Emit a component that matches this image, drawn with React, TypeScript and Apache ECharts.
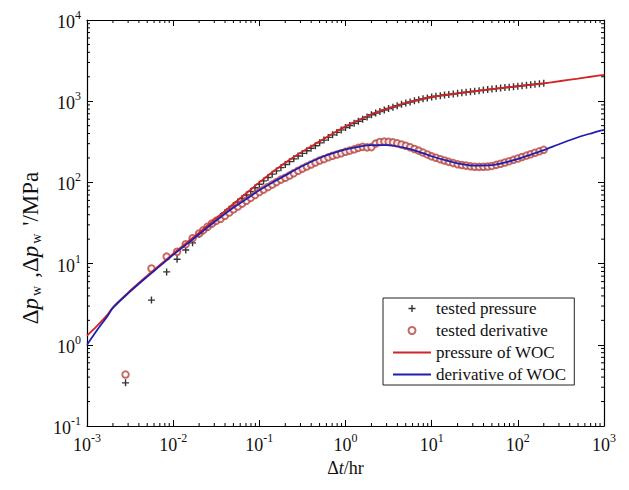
import React, { useEffect, useRef } from 'react';
import * as echarts from 'echarts';

const FONT = "'Liberation Serif', 'Times New Roman', serif";

// Model curves (WOC)
const modelTime = [0.001, 0.0013, 0.0017, 0.002, 0.003, 0.005, 0.007, 0.01, 0.015, 0.02, 0.03, 0.05, 0.07, 0.1, 0.15, 0.2, 0.3, 0.5, 0.7, 1, 1.5, 2, 3, 5, 7, 10, 15, 20, 30, 50, 70, 100, 150, 200, 300, 500, 700, 1000];
const modelPressure = [1.3, 1.7, 2.3, 2.9, 4.4, 7.1, 9.6, 13.2, 18.8, 24, 34.5, 54.5, 73, 100, 140, 175, 232, 320, 395, 490, 600, 690, 800, 950, 1040, 1130, 1200, 1250, 1320, 1410, 1470, 1530, 1600, 1660, 1760, 1900, 2000, 2110];
const modelDerivative = [1.0, 1.5, 2.2, 2.85, 4.3, 6.9, 9.3, 12.8, 18, 23, 32.5, 49, 62, 80, 103, 122, 155, 200, 228, 255, 278, 287, 288, 265, 240, 210, 185, 172, 161, 163, 175, 195, 225, 250, 295, 360, 400, 442];

// Tested data
const testTime = [0.0028, 0.0056, 0.0084, 0.0111, 0.014, 0.0168,
  0.02, 0.0224, 0.0251, 0.0282, 0.0316, 0.0355, 0.0398, 0.0447, 0.0501, 0.0562, 0.0631, 0.0708, 0.0794, 0.0891,
  0.1, 0.112, 0.126, 0.141, 0.158, 0.178, 0.2, 0.224, 0.251, 0.282, 0.316, 0.355, 0.398, 0.447, 0.501, 0.562, 0.631, 0.708, 0.794, 0.891,
  1, 1.12, 1.26, 1.41, 1.58, 1.78, 2, 2.24, 2.51, 2.82, 3.16, 3.55, 3.98, 4.47, 5.01, 5.62, 6.31, 7.08, 7.94, 8.91,
  10, 11.2, 12.6, 14.1, 15.8, 17.8, 20, 22.4, 25.1, 28.2, 31.6, 35.5, 39.8, 44.7, 50.1, 56.2, 63.1, 70.8, 79.4, 89.1,
  100, 112, 126, 141, 158, 178, 200];
const testPressure = [0.34, 3.55, 7.9, 11.3, 14.7, 18,
  22.8, 25.3, 27.9, 31, 34.3, 38.1, 42.2, 46.7, 51.8, 57.2, 63.4, 70, 77.5, 85.8,
  95, 104.4, 115, 126.4, 138.5, 152, 166, 180, 195, 211.5, 227.7, 245, 263, 283, 307, 332, 358, 385, 413, 443,
  475, 503, 534, 566, 600, 638, 680, 714, 746, 779, 812, 845, 879, 914, 948, 978, 1010, 1042, 1070, 1098,
  1128, 1149, 1170, 1190, 1209, 1229, 1250, 1269, 1289, 1309, 1329, 1349, 1369, 1390, 1410, 1429, 1449, 1470, 1489, 1509,
  1530, 1551, 1572, 1593, 1615, 1638, 1660];
const testDerivative = [0.43, 8.7, 12.2, 14, 17.3, 20.5,
  23.5, 25.8, 28.4, 31.2, 33.6, 35.6, 38.8, 42.5, 46.5, 50.4, 54.8, 59.4, 64.4, 70,
  76, 81.5, 87.7, 94, 100.9, 108.2, 114, 121.3, 129.7, 139, 147.9, 156.8, 166, 176, 186, 194.4, 203.7, 212.8, 220.4, 228.5,
  238, 246, 255, 266, 274, 270, 272, 300, 314, 318, 316, 311, 303, 293, 283, 271, 258, 246, 233, 221,
  209, 201, 193, 186, 179, 173, 167, 163.7, 160.8, 157.7, 155.7, 155.2, 155.7, 157, 159.5, 164.5, 169.5, 175.6, 182.5, 189.5,
  197, 205.5, 214, 222.5, 231.5, 241.5, 252];

// Axis decades (tick labels are 10^n)
const xDecades = [-3, -2, -1, 0, 1, 2, 3];
const yDecades = [-1, 0, 1, 2, 3, 4];

const legendNames = ['tested pressure', 'tested derivative', 'pressure of WOC', 'derivative of WOC'];
const yTitle = "{d|Δ}{i|p}{w|w}{d|,Δ}{i|p}{w|w}{d|'/MPa}";
const xTitle = '{d|Δ}{i|t}{d|/hr}';

const PLUS = 'path://M4,0H6V4H10V6H6V10H4V6H0V4H4Z';

function minorValues(decades: number[]) {
  const out: number[] = [];
  for (let i = 0; i < decades.length - 1; i++) {
    for (let m = 2; m <= 9; m++) out.push(m * Math.pow(10, decades[i]));
  }
  return out;
}

const labelRich = {
  b: { fontSize: 18, fontFamily: FONT, color: '#111', lineHeight: 22, verticalAlign: 'bottom' },
  s: { fontSize: 12, fontFamily: FONT, color: '#111', lineHeight: 12, verticalAlign: 'top' },
};
const expFormatter = (v: number) => {
  const e = Math.round(Math.log10(v));
  return `{b|10}{s|${e}}`;
};

export default function App() {
  const ref = useRef<HTMLDivElement>(null);
  useEffect(() => {
    if (!ref.current) return;
    const chart = echarts.init(ref.current, null, { renderer: 'svg' });
    const xMin = Math.pow(10, xDecades[0]);
    const xMax = Math.pow(10, xDecades[xDecades.length - 1]);
    const yMin = Math.pow(10, yDecades[0]);
    const yMax = Math.pow(10, yDecades[yDecades.length - 1]);
    const axisLine = { show: true, lineStyle: { color: '#000', width: 1.2 } };
    const axisTick = { show: true, inside: true, length: 6, lineStyle: { color: '#000', width: 1 } };
    const tickStyle = { stroke: '#000', lineWidth: 1 };

    chart.setOption({
      animation: false,
      backgroundColor: '#fff',
      grid: { left: 87, right: 25, top: 20, bottom: 64, containLabel: false },
      graphic: [
        {
          type: 'text',
          x: 30,
          y: 248,
          rotation: Math.PI / 2,
          style: {
            text: yTitle,
            align: 'center',
            verticalAlign: 'middle',
            rich: {
              d: { fontSize: 23, fontFamily: FONT, fill: '#111', lineHeight: 26, verticalAlign: 'middle' },
              i: { fontSize: 23, fontFamily: FONT, fontStyle: 'italic', fill: '#111', lineHeight: 26, verticalAlign: 'middle' },
              w: { fontSize: 14, fontFamily: FONT, fill: '#111', lineHeight: 14, verticalAlign: 'bottom', padding: [0, 8, 0, 2] },
            },
          },
        },
      ],
      legend: {
        data: [
          { name: legendNames[0] },
          { name: legendNames[1] },
          { name: legendNames[2], itemStyle: { opacity: 0 } },
          { name: legendNames[3], itemStyle: { opacity: 0 } },
        ],
        orient: 'vertical',
        left: 383,
        top: 298,
        padding: [2, 8, 2, 9],
        itemGap: 5,
        itemWidth: 38,
        itemHeight: 7,
        borderColor: '#222',
        borderWidth: 1,
        textStyle: { fontSize: 17, fontFamily: FONT, color: '#111', lineHeight: 17 },
      },
      xAxis: [
        {
          type: 'log', logBase: 10, min: xMin, max: xMax,
          position: 'bottom',
          axisLine, axisTick, splitLine: { show: false },
          axisLabel: { formatter: expFormatter, rich: labelRich, margin: 6 },
          name: xTitle,
          nameLocation: 'middle', nameGap: 30,
          nameTextStyle: {
            rich: {
              d: { fontSize: 18, fontFamily: FONT, color: '#111' },
              i: { fontSize: 18, fontFamily: FONT, fontStyle: 'italic', color: '#111' },
            },
          },
        },
        {
          type: 'log', logBase: 10, min: xMin, max: xMax,
          position: 'top',
          axisLine, axisTick, splitLine: { show: false },
          axisLabel: { show: false },
        },
      ],
      yAxis: [
        {
          type: 'log', logBase: 10, min: yMin, max: yMax,
          position: 'left',
          axisLine, axisTick, splitLine: { show: false },
          axisLabel: { formatter: expFormatter, rich: labelRich, margin: 6 },
        },
        {
          type: 'log', logBase: 10, min: yMin, max: yMax,
          position: 'right',
          axisLine, axisTick, splitLine: { show: false },
          axisLabel: { show: false },
        },
      ],
      series: [
        {
          name: legendNames[0],
          type: 'scatter',
          symbol: PLUS,
          symbolSize: 7,
          itemStyle: { color: '#000' },
          data: testTime.map((t, i) => [t, testPressure[i]]),
          z: 2,
        },
        {
          name: legendNames[1],
          type: 'scatter',
          symbol: 'emptyCircle',
          symbolSize: 6.5,
          itemStyle: { color: '#b8453f', borderWidth: 1 },
          data: testTime.map((t, i) => [t, testDerivative[i]]),
          z: 2,
        },
        {
          name: legendNames[2],
          type: 'line',
          symbol: 'none',
          smooth: 0.3,
          lineStyle: { color: '#d42424', width: 1.8 },
          itemStyle: { color: '#d42424' },
          data: modelTime.map((t, i) => [t, modelPressure[i]]),
          z: 3,
        },
        {
          name: legendNames[3],
          type: 'line',
          symbol: 'none',
          smooth: 0.3,
          lineStyle: { color: '#1e1eb0', width: 1.8 },
          itemStyle: { color: '#1e1eb0' },
          data: modelTime.map((t, i) => [t, modelDerivative[i]]),
          z: 3,
        },
        {
          type: 'custom',
          silent: true,
          clip: false,
          data: minorValues(xDecades).map((v) => [v, 1]),
          renderItem: (params: any, api: any) => {
            const p = api.coord([api.value(0), 1]);
            const cs = params.coordSys;
            return {
              type: 'group',
              children: [
                { type: 'line', shape: { x1: p[0], y1: cs.y + cs.height, x2: p[0], y2: cs.y + cs.height - 3 }, style: tickStyle },
                { type: 'line', shape: { x1: p[0], y1: cs.y, x2: p[0], y2: cs.y + 3 }, style: tickStyle },
              ],
            };
          },
        },
        {
          type: 'custom',
          silent: true,
          clip: false,
          data: minorValues(yDecades).map((v) => [1, v]),
          renderItem: (params: any, api: any) => {
            const p = api.coord([1, api.value(1)]);
            const cs = params.coordSys;
            return {
              type: 'group',
              children: [
                { type: 'line', shape: { x1: cs.x, y1: p[1], x2: cs.x + 3, y2: p[1] }, style: tickStyle },
                { type: 'line', shape: { x1: cs.x + cs.width, y1: p[1], x2: cs.x + cs.width - 3, y2: p[1] }, style: tickStyle },
              ],
            };
          },
        },
      ],
    });
    return () => chart.dispose();
  }, []);

  return (
    <div
      ref={ref}
      style={{ position: 'fixed', left: 0, top: 0, width: 629, height: 490, background: '#fff' }}
    />
  );
}
